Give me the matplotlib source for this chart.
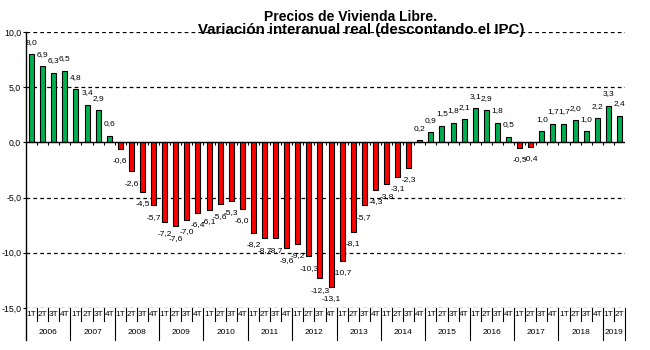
import numpy as np
import matplotlib.pyplot as plt

# Quarterly data, 2006 1T .. 2019 2T
years = [str(y) for y in range(2006, 2020)]
quarters = ["1T", "2T", "3T", "4T"]
values = [8.0, 6.9, 6.3, 6.5,
          4.8, 3.4, 2.9, 0.6,
          -0.6, -2.6, -4.5, -5.7,
          -7.2, -7.6, -7.0, -6.4,
          -6.1, -5.6, -5.3, -6.0,
          -8.2, -8.7, -8.7, -9.6,
          -9.2, -10.3, -12.3, -13.1,
          -10.7, -8.1, -5.7, -4.3,
          -3.8, -3.1, -2.3, 0.2,
          0.9, 1.5, 1.8, 2.1,
          3.1, 2.9, 1.8, 0.5,
          -0.5, -0.4, 1.0, 1.7,
          1.7, 2.0, 1.0, 2.2,
          3.3, 2.4]
yticks = [-15, -10, -5, 0, 5, 10]

plt.rcParams['font.family'] = ['Liberation Sans', 'DejaVu Sans']

n = len(values)
x = np.arange(n)
colors = ['#00B050' if v >= 0 else '#FF0000' for v in values]

fig = plt.figure(figsize=(6.5, 3.5), dpi=100)
ax = fig.add_axes([26 / 650, 42 / 350, 599 / 650, 276 / 350])

ax.bar(x, values, width=0.45, color=colors, edgecolor='black', linewidth=0.8, zorder=3)

# Data labels
for i, v in enumerate(values):
    off = 8.6 if v >= 0 else -8.6
    ax.annotate(f"{v:.1f}".replace('.', ','), (i, v), xytext=(0, off),
                textcoords='offset points', ha='center', va='center', fontsize=6)

ax.set_xlim(-0.5, n - 0.5)
ax.set_ylim(-15, 10)

# Dashed grid lines, solid zero line with small ticks
for t in yticks:
    if t != 0:
        ax.axhline(t, color='black', lw=0.9, dashes=(3, 2.5), zorder=1)
ax.axhline(0, color='black', lw=1, zorder=4)
ax.vlines(x[:-1] + 0.5, -0.25, 0, color='black', lw=0.8, zorder=4)

for s in ['top', 'right', 'bottom', 'left']:
    ax.spines[s].set_visible(False)

ax.set_yticks(yticks)
ax.set_yticklabels([f"{t:.1f}".replace('.', ',') for t in yticks], fontsize=6.3)
ax.tick_params(axis='y', length=2, width=0.8, pad=1.5)
ax.set_xticks([])

# Two-level category axis
trans = ax.get_xaxis_transform()
ax.plot([-0.5, -0.5], [1, -0.116], color='black', lw=1, transform=trans, clip_on=False)
for i in range(n):
    ax.text(i, -0.022, quarters[i % 4], transform=trans, ha='center', va='center', fontsize=6)
    b = i + 0.5
    if (i + 1) % 4 == 0 or i == n - 1:
        ax.plot([b, b], [0, -0.116], color='black', lw=0.8, transform=trans, clip_on=False)
    else:
        ax.plot([b, b], [0, -0.047], color='black', lw=0.8, transform=trans, clip_on=False)
for k, y in enumerate(years):
    start = 4 * k
    end = min(4 * k + 3, n - 1)
    ax.text((start + end) / 2, -0.09, y, transform=trans, ha='center', va='center', fontsize=6)

# Title
fig.text(351 / 650, 1 - 17 / 350, "Precios de Vivienda Libre.", ha='center', va='center',
         fontsize=10, fontweight='bold')
fig.text(361 / 650, 1 - 30 / 350, "Variación interanual real (descontando el IPC)", ha='center',
         va='center', fontsize=10.8, fontweight='bold')

fig.savefig('out.png', dpi=100)
